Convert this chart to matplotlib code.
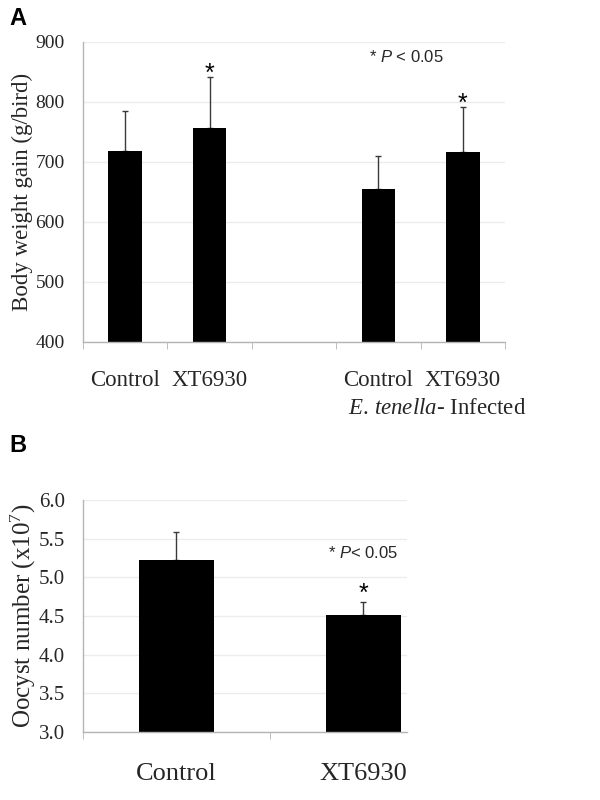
import numpy as np
import matplotlib.pyplot as plt

plt.rcParams['figure.facecolor'] = 'white'
plt.rcParams['font.family'] = ['Liberation Serif', 'DejaVu Serif']
plt.rcParams['mathtext.fontset'] = 'custom'
plt.rcParams['mathtext.rm'] = 'Liberation Serif'
plt.rcParams['mathtext.it'] = 'Liberation Serif:italic'
plt.rcParams['mathtext.sf'] = 'Liberation Sans:italic'

# Panel A : body weight gain (g/bird)
cats_a = ['Control', 'XT6930', '', 'Control', 'XT6930']
gain = [718, 757, np.nan, 655, 717]
gain_err = [67, 85, np.nan, 55, 75]
gain_sig = [False, True, False, False, True]

# Panel B : oocyst number (x10^7)
cats_b = ['Control', 'XT6930']
oocyst = [5.22, 4.51]
oocyst_err = [0.37, 0.17]
oocyst_sig = [False, True]

grid_c = '#ececec'
spine_c = '#b4b4b4'
text_c = '#262626'

fig = plt.figure(figsize=(6, 8), dpi=100)


def style(ax):
    for s in ['top', 'right']:
        ax.spines[s].set_visible(False)
    for s in ['left', 'bottom']:
        ax.spines[s].set_color(spine_c)
        ax.spines[s].set_linewidth(1)
    ax.yaxis.grid(True, color=grid_c, lw=1)
    ax.set_axisbelow(True)
    ax.tick_params(axis='y', length=0, colors=text_c, pad=13)
    ax.tick_params(axis='x', which='major', length=0, colors=text_c)
    ax.tick_params(axis='x', which='minor', length=5, color=spine_c)


def stars(ax, xs, vals, errs, sig, dy):
    for x, v, e, s in zip(xs, vals, errs, sig):
        if s:
            ax.annotate('*', (x, v + e), xytext=(0, dy), textcoords='offset points',
                        ha='center', va='baseline', fontsize=18,
                        family='Liberation Sans', color='black')


# ---------------- A ----------------
axa = fig.add_axes([0.138, 0.5725, 0.704, 0.375])
xa = np.arange(len(cats_a))
lo = np.zeros(len(gain))
axa.errorbar(xa, gain, yerr=[lo, gain_err], fmt='none', ecolor='#3a3a3a',
             elinewidth=1, capsize=2.5, capthick=1, zorder=1)
axa.bar(xa, gain, width=0.4, color='black', zorder=2)
stars(axa, xa, gain, gain_err, gain_sig, -3)
axa.set_ylim(400, 900)
axa.set_xlim(-0.5, len(cats_a) - 0.5)
axa.set_yticks(np.arange(400, 901, 100))
axa.set_xticks(xa)
axa.set_xticklabels(cats_a, fontsize=16.5)
axa.set_xticks(np.arange(-0.5, len(cats_a)), minor=True)
style(axa)
axa.tick_params(axis='x', which='major', pad=20)
axa.tick_params(axis='y', labelsize=14)
axa.set_ylabel('Body weight gain (g/bird)', fontsize=16.5, color=text_c,
               labelpad=2)
axa.text(3.7, -0.22, r'$\it{E.\,tenella}$- Infected',
         transform=axa.get_xaxis_transform(),
         ha='center', va='center', fontsize=16.5, color=text_c)
axa.text(3.33, 0.95, r'* $\mathsf{P}$ < 0.05', transform=axa.get_xaxis_transform(),
         ha='center', va='center', fontsize=12, family='Liberation Sans',
         color=text_c)
fig.text(0.015, 0.977, 'A', fontsize=17, fontweight='bold',
         family='Liberation Sans', va='center')

# ---------------- B ----------------
axb = fig.add_axes([0.138, 0.085, 0.54, 0.29])
xb = np.arange(len(cats_b))
lo = np.zeros(len(oocyst))
axb.errorbar(xb, oocyst, yerr=[lo, oocyst_err], fmt='none', ecolor='#3a3a3a',
             elinewidth=1, capsize=2.5, capthick=1, zorder=1)
axb.bar(xb, oocyst, width=0.4, color='black', zorder=2)
stars(axb, xb, oocyst, oocyst_err, oocyst_sig, 1)
axb.set_ylim(3.0, 6.0)
axb.set_xlim(-0.5, 1.233)
axb.set_yticks(np.arange(3.0, 6.01, 0.5))
axb.set_yticklabels([f'{t:.1f}' for t in np.arange(3.0, 6.01, 0.5)])
axb.set_xticks(xb)
axb.set_xticklabels(cats_b, fontsize=19)
axb.set_xticks([-0.5, 0.5], minor=True)
style(axb)
axb.tick_params(axis='x', which='major', pad=22)
axb.tick_params(axis='y', labelsize=15)
axb.set_ylabel(r'Oocyst number (x10$^7$)', fontsize=18, color=text_c,
               labelpad=0)
axb.text(1.0, 5.32, r'* $\mathsf{P}$< 0.05', ha='center', va='center',
         fontsize=12, family='Liberation Sans', color=text_c)
fig.text(0.015, 0.443, 'B', fontsize=17, fontweight='bold',
         family='Liberation Sans', va='center')

fig.savefig('out.png', dpi=100)
